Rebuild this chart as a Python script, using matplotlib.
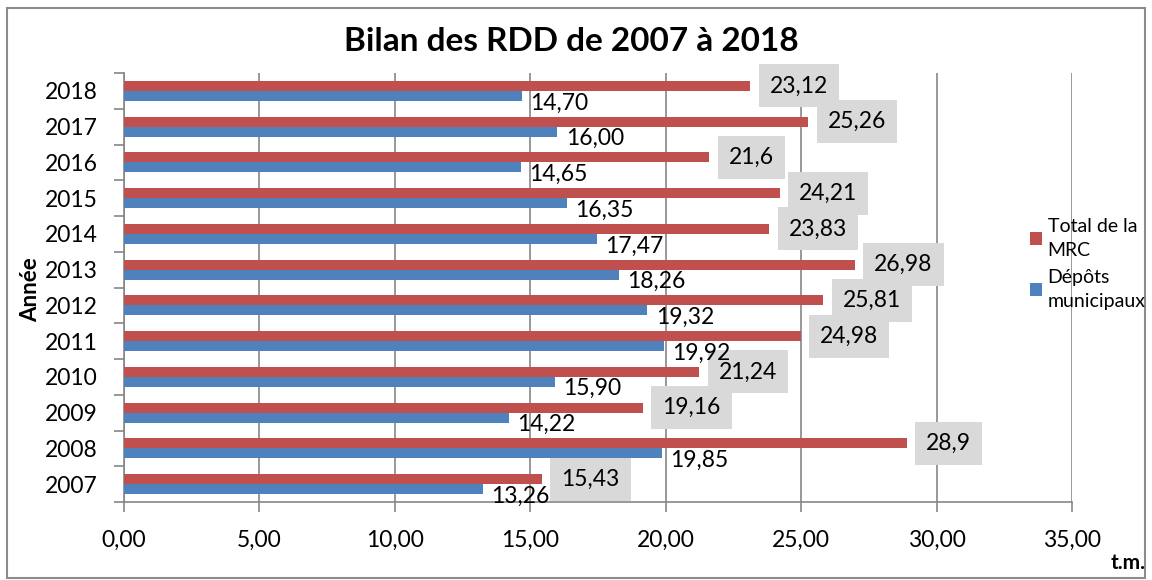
import numpy as np
import matplotlib
matplotlib.use("Agg")
import matplotlib.pyplot as plt
from matplotlib.patches import Rectangle
from matplotlib.ticker import FixedLocator

plt.rcParams["font.family"] = ["Lato", "DejaVu Sans"]

years = ["2007", "2008", "2009", "2010", "2011", "2012",
         "2013", "2014", "2015", "2016", "2017", "2018"]
total_mrc = [15.43, 28.9, 19.16, 21.24, 24.98, 25.81,
             26.98, 23.83, 24.21, 21.6, 25.26, 23.12]
depots = [13.26, 19.85, 14.22, 15.90, 19.92, 19.32,
          18.26, 17.47, 16.35, 14.65, 16.00, 14.70]
total_labels = ["15,43", "28,9", "19,16", "21,24", "24,98", "25,81",
                "26,98", "23,83", "24,21", "21,6", "25,26", "23,12"]
depots_labels = ["13,26", "19,85", "14,22", "15,90", "19,92", "19,32",
                 "18,26", "17,47", "16,35", "14,65", "16,00", "14,70"]
x_ticks = [0, 5, 10, 15, 20, 25, 30, 35]

red = "#c0504d"
blue = "#4f81bd"
grid_col = "#868686"

fig = plt.figure(figsize=(11.52, 5.8), dpi=100)
ax = fig.add_axes([0.1076, 0.1345, 0.8230, 0.7395])

y = np.arange(len(years))
h = 0.28
ax.barh(y + h / 2, total_mrc, height=h, color=red, label="Total de la\nMRC", zorder=3)
ax.barh(y - h / 2, depots, height=h, color=blue, label="Dépôts\nmunicipaux", zorder=3)

for i in range(len(years)):
    ax.annotate(total_labels[i], (total_mrc[i], y[i] + h / 2),
                xytext=(14, 0), textcoords="offset points",
                ha="left", va="center", fontsize=16.5, zorder=5,
                bbox=dict(boxstyle="square,pad=0.48", fc="#d9d9d9", ec="none"))
    ax.annotate(depots_labels[i], (depots[i], y[i] - h / 2),
                xytext=(6, -5), textcoords="offset points",
                ha="left", va="center", fontsize=16.5, zorder=6)

ax.set_xlim(0, 35)
ax.set_ylim(-0.5, len(years) - 0.5)
ax.set_xticks(x_ticks)
ax.set_xticklabels([f"{v:.2f}".replace(".", ",") for v in x_ticks], fontsize=16.5)
ax.set_yticks(y)
ax.set_yticklabels(years, fontsize=16.5)
ax.yaxis.set_minor_locator(FixedLocator(np.arange(-0.5, len(years), 1)))
ax.tick_params(axis="y", which="major", length=0, pad=19)
ax.tick_params(axis="y", which="minor", length=7, color=grid_col, width=1.2)
ax.tick_params(axis="x", length=7, color=grid_col, width=1.2, pad=13)

ax.grid(True, axis="x", color=grid_col, linewidth=1.2, zorder=0)
ax.set_axisbelow(True)
for s in ["top", "right"]:
    ax.spines[s].set_visible(False)
for s in ["left", "bottom"]:
    ax.spines[s].set_color(grid_col)
    ax.spines[s].set_linewidth(1.2)

fig.text(0.496, 0.928, "Bilan des RDD de 2007 à 2018", ha="center", va="center",
         fontsize=24, fontweight="bold")
fig.text(0.027, 0.50, "Année", rotation=90, ha="center", va="center",
         fontsize=16, fontweight="bold")
fig.text(0.979, 0.029, "t.m.", ha="center", va="center",
         fontsize=15, fontweight="bold")

leg = fig.legend(loc="center left", bbox_to_anchor=(0.879, 0.545), frameon=False,
                 fontsize=14, handlelength=0.6, handleheight=0.6, handletextpad=0.3,
                 labelspacing=0.55)
for t in leg.get_texts():
    t.set_linespacing(1.45)

fig.patches.append(Rectangle((0.006, 0.004), 0.988, 0.982, transform=fig.transFigure,
                             fill=False, ec="#8c8c8c", lw=1.5))

fig.savefig("out.png", dpi=100)
